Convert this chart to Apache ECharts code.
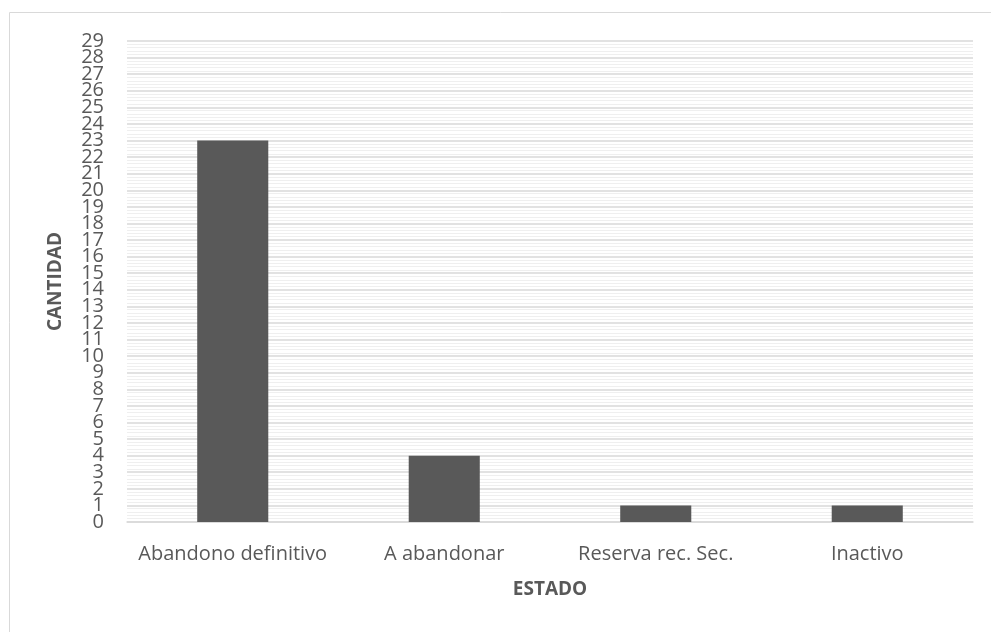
<!DOCTYPE html>
<html><head><meta charset="utf-8">
<script src="https://cdn.jsdelivr.net/npm/echarts@6/dist/echarts.min.js"></script>
<style>html,body{margin:0;padding:0;background:#fff}#c{width:991px;height:632px}</style>
</head><body><div id="c"></div>
<script>
const categories = ["Abandono definitivo", "A abandonar", "Reserva rec. Sec.", "Inactivo"];
const values = [23, 4, 1, 1];
const yTicks = {min: 0, max: 29, interval: 1};
const xTitle = "ESTADO";
const yTitle = "CANTIDAD";

const labelStyle = {fontFamily: 'Open Sans', fontSize: 20, color: '#595959', margin: 23, lineHeight: 10};
const chart = echarts.init(document.getElementById('c'));
chart.setOption({
  animation: false,
  graphic: [{type: 'rect', shape: {x: 9.5, y: 12.5, width: 1000, height: 700}, style: {fill: 'none', stroke: '#d9d9d9', lineWidth: 1}, z: -1}],
  grid: {left: 127, right: 18, top: 41, bottom: 110},
  xAxis: {
    type: 'category', data: categories,
    axisLine: {lineStyle: {color: '#d9d9d9', width: 1.5}},
    axisTick: {show: false},
    axisLabel: {fontFamily: 'Open Sans', fontSize: 20, color: '#595959', margin: 22, interval: 0},
    name: xTitle, nameLocation: 'middle', nameGap: 58,
    nameTextStyle: {fontFamily: 'Open Sans', fontWeight: 'bold', fontSize: 19, color: '#595959'}
  },
  yAxis: [{
    type: 'value', min: yTicks.min, max: yTicks.max, interval: yTicks.interval,
    axisLine: {show: false}, axisTick: {show: false},
    axisLabel: Object.assign({showMinLabel: false, showMaxLabel: false, hideOverlap: false}, labelStyle),
    splitLine: {lineStyle: {color: '#d9d9d9', width: 1.5}},
    minorTick: {show: false, splitNumber: 5},
    minorSplitLine: {show: true, lineStyle: {color: '#efefef', width: 1}},
    name: yTitle, nameLocation: 'middle', nameGap: 62, nameRotate: 90,
    nameTextStyle: {fontFamily: 'Open Sans', fontWeight: 'bold', fontSize: 19, color: '#595959'}
  }, {
    type: 'value', position: 'left', min: yTicks.min, max: yTicks.max, interval: yTicks.interval,
    axisLine: {show: false}, axisTick: {show: false}, splitLine: {show: false},
    axisLabel: Object.assign({showMinLabel: true, showMaxLabel: true,
      formatter: v => (v === yTicks.min || v === yTicks.max) ? String(v) : ''}, labelStyle)
  }],
  series: [{type: 'bar', data: values, barWidth: '33.6%', itemStyle: {color: '#595959'}}]
});
</script></body></html>
